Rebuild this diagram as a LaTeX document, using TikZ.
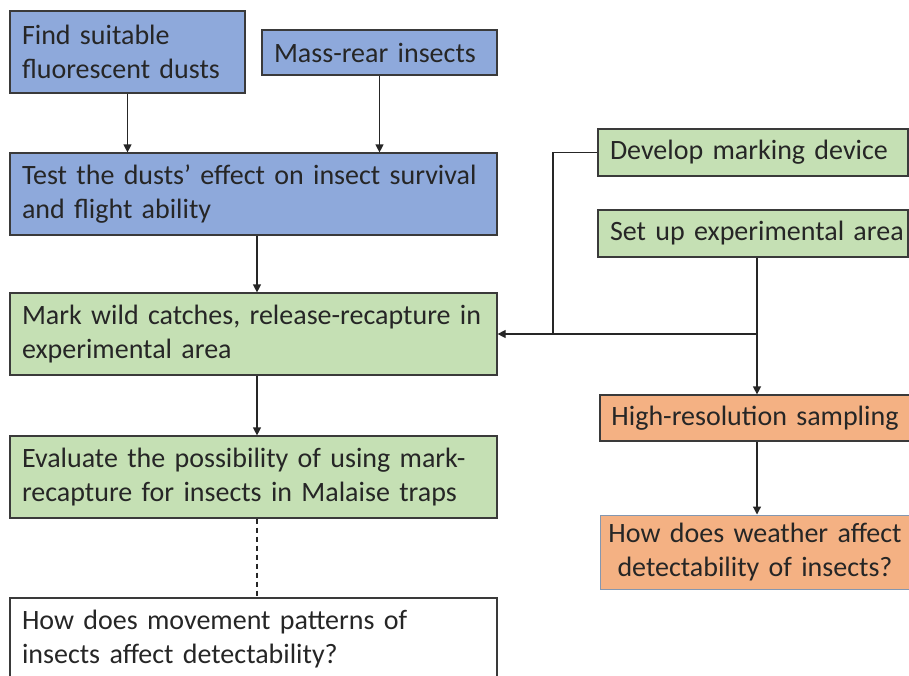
\documentclass[tikz,border=0pt]{standalone}
\usepackage{fontspec}
\setmainfont{Carlito}
\usetikzlibrary{arrows.meta}
\definecolor{bluefill}{HTML}{8EA9DB}
\definecolor{greenfill}{HTML}{C5E0B4}
\definecolor{orangefill}{HTML}{F4B183}
\definecolor{boxline}{HTML}{3A3A3A}
\definecolor{wline}{HTML}{8497B0}
\tikzset{
  box/.style={draw=boxline, line width=1.2pt, inner ysep=0pt, inner xsep=12pt,
    font=\fontsize{28}{34.6}\selectfont, text=black!85},
  lbox/.style={box, align=left},
  cbox/.style={box, align=center, inner xsep=4pt},
  conn/.style={draw=black!85, line width=1.2pt},
  arr/.style={conn, -{Triangle[length=8pt,width=8pt]}},
}
\begin{document}
\begin{tikzpicture}[x=1pt,y=-1pt]
\useasboundingbox (0,0) rectangle (909,675);
\clip (0,0) rectangle (909,675);
% left column
\node[lbox, fill=bluefill, text width=211pt, minimum height=82pt] (find) at (127.5,52) {\mbox{Find suitable}\\\mbox{fluorescent dusts}};
\node[lbox, fill=bluefill, text width=211pt, minimum height=45pt] (mass) at (379.5,52.5) {\mbox{Mass-rear insects}};
\node[lbox, fill=bluefill, text width=463pt, minimum height=82pt] (test) at (253.5,194) {\mbox{Test the dusts’ effect on insect survival}\\\mbox{and flight ability}};
\node[lbox, fill=greenfill, text width=463pt, minimum height=82pt] (mark) at (253.5,334) {\mbox{Mark wild catches, release-recapture in}\\\mbox{experimental area}};
\node[lbox, fill=greenfill, text width=463pt, minimum height=82pt] (eval) at (253.5,477) {\mbox{Evaluate the possibility of using mark-}\\\mbox{recapture for insects in Malaise traps}};
\node[lbox, fill=white, text width=463pt, minimum height=82pt] (move) at (253.5,639) {\mbox{How does movement patterns of}\\\mbox{insects affect detectability?}};
% right column
\node[lbox, fill=greenfill, text width=286pt, minimum height=47pt] (dev) at (753,152.5) {\mbox{Develop marking device}};
\node[lbox, fill=greenfill, text width=286pt, minimum height=47pt] (setup) at (753,233.5) {\mbox{Set up experimental area}};
\node[cbox, fill=orangefill, text width=302pt, minimum height=46pt] (high) at (755,418) {High-resolution sampling};
\node[cbox, fill=orangefill, draw=wline, line width=1pt, text width=302pt, minimum height=74pt] (weather) at (755,552) {How does weather affect\\detectability of insects?};
% helper coordinates
\coordinate (cx) at (257,0);
\coordinate (rx) at (757,0);
\coordinate (j1) at (553,334);
% connectors
\draw[arr] (find.south) -- (find.south |- test.north);
\draw[arr] (mass.south) -- (mass.south |- test.north);
\draw[arr] (cx |- test.south) -- (cx |- mark.north);
\draw[arr] (cx |- mark.south) -- (cx |- eval.north);
\draw[conn, dash pattern=on 5pt off 4pt] (cx |- eval.south) -- (cx |- move.north);
\draw[arr] (dev.west) -| (j1) -- (mark.east);
\draw[conn] (rx |- setup.south) -- (rx |- j1) -- (j1);
\draw[arr] (rx |- j1) -- (rx |- high.north);
\draw[arr] (rx |- high.south) -- (rx |- weather.north);
\end{tikzpicture}
\end{document}
